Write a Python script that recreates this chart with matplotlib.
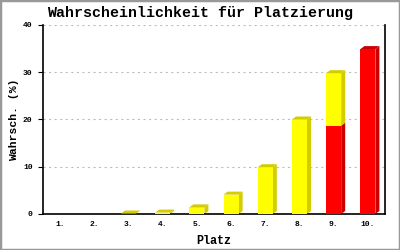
import matplotlib
matplotlib.use("Agg")
import matplotlib.pyplot as plt
from matplotlib.patches import Polygon, Rectangle

places = ["1.", "2.", "3.", "4.", "5.", "6.", "7.", "8.", "9.", "10."]
# red part sits at the bottom, yellow is stacked on top of it
red_vals = [0, 0, 0, 0, 0, 0, 0, 0, 18.7, 34.9]
yellow_vals = [0, 0, 0.1, 0.3, 1.4, 4.1, 9.9, 20.0, 11.1, 0]
yticks = [0, 10, 20, 30, 40]

plt.rcParams["lines.scale_dashes"] = False
mono = "Liberation Mono"

fig = plt.figure(figsize=(4, 2.5), dpi=100)
ax = fig.add_axes([43 / 400, 1 - 214 / 250, 342 / 400, 189 / 250])

ax.set_xlim(0.5, len(places) + 0.5)
ax.set_ylim(0, 40)

# depth of the fake 3d effect, px -> data units
px_x = 342 / len(places)
px_y = 189 / 40.0
dx = 4 / px_x
dy = 3 / px_y
w = 15 / px_x

def block(x, bottom, h, face, dark, top):
    x0 = x - w / 2
    x1 = x + w / 2
    ax.add_patch(Rectangle((x0, bottom), w, h, facecolor=face, edgecolor="none", zorder=3))
    side = [(x1, bottom), (x1 + dx, bottom + dy), (x1 + dx, bottom + h + dy), (x1, bottom + h)]
    ax.add_patch(Polygon(side, closed=True, facecolor=dark, edgecolor="none", zorder=2.5))
    if top:
        lid = [(x0, bottom + h), (x0 + dx, bottom + h + dy), (x1 + dx, bottom + h + dy), (x1, bottom + h)]
        ax.add_patch(Polygon(lid, closed=True, facecolor=dark, edgecolor="none", zorder=3))

for i in range(len(places)):
    x = i + 1
    r = red_vals[i]
    yv = yellow_vals[i]
    if r > 0:
        block(x, 0, r, "#ff0000", "#cc0000", yv == 0)
    if yv > 0:
        block(x, r, yv, "#ffff00", "#d2cc00", True)

ax.set_yticks(yticks)
ax.set_xticks(range(1, len(places) + 1))
ax.set_xticklabels(places)
for t in ax.get_xticklabels() + ax.get_yticklabels():
    t.set_fontfamily(mono)
    t.set_fontsize(5.8)
    t.set_fontweight("bold")
ax.tick_params(axis="x", length=0, pad=5)
ax.tick_params(axis="y", length=3.6, width=0.8, pad=4)

ax.grid(axis="y", color="#bbbbbb", linestyle=(0, (1.5, 2.5)), linewidth=0.8, zorder=0)
ax.set_axisbelow(True)
ax.spines["top"].set_visible(False)
for s in ["left", "right", "bottom"]:
    ax.spines[s].set_linewidth(1.2)

ax.set_xlabel("Platz", fontfamily=mono, fontweight="bold", fontsize=8.5, labelpad=5)
ax.set_ylabel("Wahrsch. (%)", fontfamily=mono, fontweight="bold", fontsize=8.2, labelpad=3)

fig.text(0.5, 1 - 13 / 250, "Wahrscheinlichkeit für Platzierung", ha="center", va="center",
         fontfamily=mono, fontweight="bold", fontsize=10.8)

# grey frame round the whole picture
fig.patches.append(Rectangle((0, 0), 1, 1, transform=fig.transFigure, fill=False,
                             edgecolor="#999999", linewidth=2.5))

fig.savefig("out.png", dpi=100)
